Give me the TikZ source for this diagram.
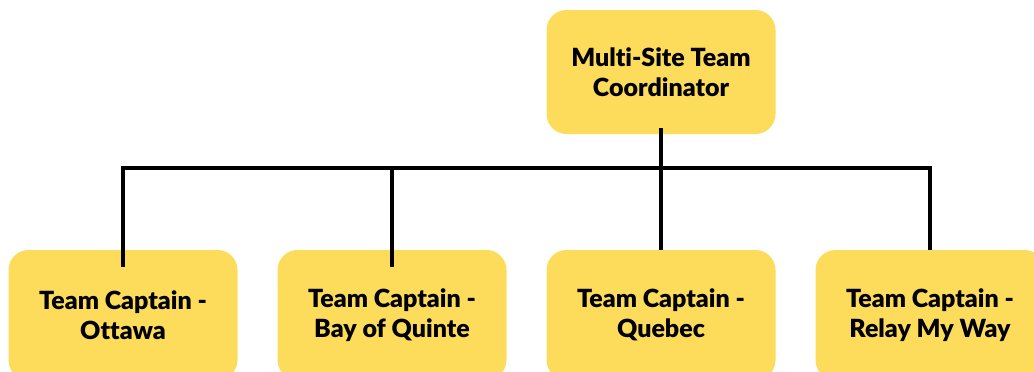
\documentclass[tikz,border=0pt]{standalone}
\usepackage{fontspec}
\setmainfont{Lato}[BoldFont={Lato Black}, Ligatures=NoCommon]
\definecolor{boxyellow}{HTML}{FDDC5C}
\tikzset{role/.style={rectangle, rounded corners=20pt, fill=boxyellow, minimum width=229pt, minimum height=130pt, align=center, font=\bfseries\fontsize{25}{30}\selectfont},
  link/.style={line width=3.5pt, black}}

\begin{document}
\begin{tikzpicture}[x=1pt,y=-1pt]
\useasboundingbox (0,0) rectangle (1034,372);
\node[role, minimum height=124pt] (C) at (661,72) {Multi-Site Team\\Coordinator};
\node[role] (O) at (123,315) {Team Captain -\\Ottawa};
\node[role] (B) at (392,315) {Team Captain -\\Bay of Quinte};
\node[role] (Q) at (661,315) {Team Captain -\\Quebec};
\node[role] (M) at (930,315) {Team Captain -\\Relay My Way};
\coordinate (bus) at (0,168);
\draw[link] ([yshift=-17pt]O.north) -- (O.north |- bus) -- (M.north |- bus) -- (M.north);
\draw[link] (B.north |- bus) -- ([yshift=-17pt]B.north);
\draw[link] ([yshift=6pt]C.south) -- (Q.north);
\end{tikzpicture}
\end{document}
